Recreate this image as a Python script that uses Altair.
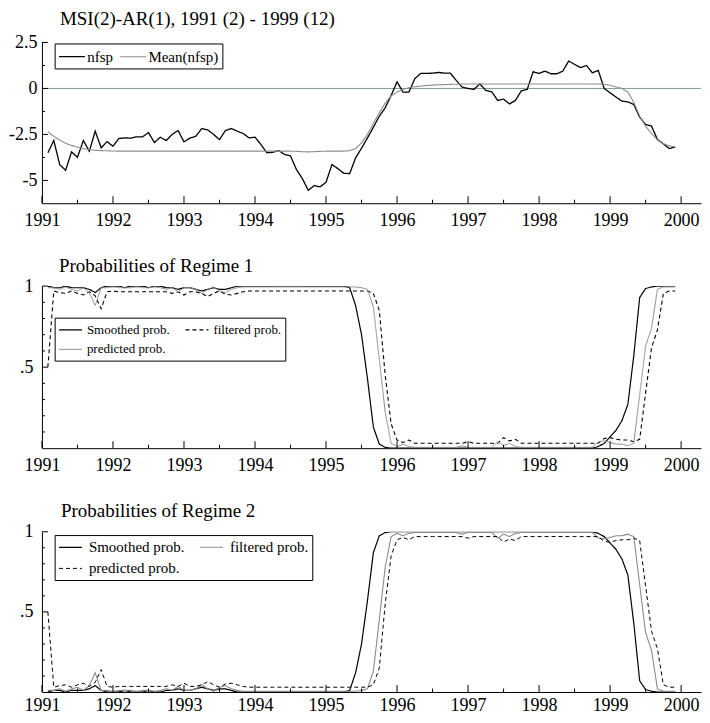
import altair as alt
import pandas as pd

FONT = "Liberation Serif"
GRAY = "#8c8c8c"
ZERO_COLOR = "#7f9c9c"

# monthly observations 1991 (2) ... 1999 (12)
N = 107
t = [1991 + (i + 1) / 12 for i in range(N)]

nfsp = [-3.50, -2.83, -4.14, -4.45, -3.45, -3.74, -2.83, -3.41, -2.32, -3.23,
        -2.89, -3.14, -2.72, -2.69, -2.70, -2.63, -2.63, -2.40, -2.94, -2.65,
        -2.83, -2.50, -2.29, -2.90, -2.70, -2.60, -2.18, -2.25, -2.50, -2.78,
        -2.29, -2.18, -2.32, -2.45, -2.69, -2.65, -3.05, -3.50, -3.47, -3.38,
        -3.59, -3.67, -4.41, -4.90, -5.54, -5.28, -5.35, -5.10, -4.14, -4.36,
        -4.61, -4.63, -3.77, -3.25, -2.69, -2.11, -1.51, -1.05, -0.38, 0.36,
        -0.20, -0.20, 0.53, 0.82, 0.82, 0.83, 0.87, 0.83, 0.83, 0.44,
        0.07, 0.00, -0.05, 0.25, -0.11, -0.18, -0.65, -0.58, -0.84, -0.65,
        -0.13, -0.05, 0.91, 0.82, 0.94, 0.80, 0.80, 0.94, 1.49, 1.31,
        1.13, 1.25, 0.85, 0.98, 0.00, -0.24, -0.47, -0.69, -0.73, -0.87,
        -1.56, -1.96, -2.05, -2.78, -3.01, -3.27, -3.19]

mean_nfsp = [-2.36, -2.60, -2.81, -2.98, -3.10, -3.19, -3.27, -3.32, -3.36, -3.38,
             -3.39, -3.40, -3.41, -3.41, -3.41, -3.41, -3.41, -3.41, -3.41, -3.41,
             -3.41, -3.41, -3.41, -3.41, -3.41, -3.41, -3.41, -3.41, -3.41, -3.41,
             -3.41, -3.41, -3.41, -3.41, -3.41, -3.41, -3.41, -3.41, -3.41, -3.41,
             -3.41, -3.41, -3.42, -3.44, -3.45, -3.44, -3.42, -3.41, -3.41, -3.41,
             -3.41, -3.38, -3.27, -2.96, -2.50, -1.90, -1.32, -0.80, -0.40, -0.20,
             -0.05, 0.04, 0.09, 0.13, 0.16, 0.18, 0.20, 0.21, 0.22, 0.23,
             0.24, 0.24, 0.24, 0.24, 0.24, 0.24, 0.24, 0.24, 0.24, 0.24,
             0.24, 0.24, 0.24, 0.24, 0.24, 0.24, 0.24, 0.24, 0.24, 0.24,
             0.24, 0.24, 0.24, 0.24, 0.23, 0.17, 0.08, 0.00, -0.20, -0.75,
             -1.50, -2.05, -2.45, -2.80, -3.00, -3.12, -3.18]

# ---- Regime 1 (labels as in the panel's legend) ----
r1_smoothed = [1.00, 0.99, 0.99, 1.00, 0.99, 0.99, 0.99, 0.98, 0.96, 0.99,
               1.00, 1.00, 1.00, 0.99, 1.00, 1.00, 1.00, 0.99, 1.00, 1.00,
               0.99, 0.99, 0.98, 0.99, 0.99, 0.98, 0.97, 0.98, 0.99, 0.98,
               0.98, 0.99, 1.00, 1.00, 1.00, 1.00, 1.00, 1.00, 1.00, 1.00,
               1.00, 1.00, 1.00, 1.00, 1.00, 1.00, 1.00, 1.00, 1.00, 1.00,
               1.00, 0.99, 0.88, 0.70, 0.43, 0.13, 0.025, 0.005, 0.00, 0.00,
               0.00, 0.00, 0.00, 0.00, 0.00, 0.00, 0.00, 0.00, 0.00, 0.00,
               0.00, 0.00, 0.00, 0.00, 0.00, 0.00, 0.00, 0.00, 0.00, 0.00,
               0.00, 0.00, 0.00, 0.00, 0.00, 0.00, 0.00, 0.00, 0.00, 0.00,
               0.00, 0.00, 0.00, 0.01, 0.03, 0.07, 0.11, 0.17, 0.27, 0.57,
               0.93, 0.985, 0.995, 1.00, 1.00, 1.00, 1.00]

r1_filtered = [0.50, 0.97, 0.96, 0.955, 0.97, 0.955, 0.945, 0.965, 0.94, 0.86,
               0.965, 0.97, 0.965, 0.965, 0.965, 0.965, 0.965, 0.965, 0.965, 0.965,
               0.965, 0.955, 0.965, 0.945, 0.965, 0.965, 0.955, 0.935, 0.955, 0.97,
               0.95, 0.945, 0.955, 0.965, 0.97, 0.97, 0.97, 0.97, 0.97, 0.97,
               0.97, 0.97, 0.97, 0.97, 0.97, 0.97, 0.97, 0.97, 0.97, 0.97,
               0.97, 0.97, 0.97, 0.97, 0.97, 0.955, 0.85, 0.45, 0.15, 0.05,
               0.035, 0.05, 0.03, 0.03, 0.03, 0.03, 0.03, 0.03, 0.03, 0.03,
               0.03, 0.04, 0.03, 0.03, 0.03, 0.03, 0.03, 0.065, 0.045, 0.055,
               0.03, 0.03, 0.03, 0.03, 0.03, 0.03, 0.03, 0.03, 0.03, 0.03,
               0.03, 0.03, 0.03, 0.03, 0.06, 0.065, 0.055, 0.05, 0.05, 0.04,
               0.055, 0.34, 0.62, 0.73, 0.955, 0.97, 0.97]

r1_predicted = [0.99, 0.99, 0.98, 0.995, 0.98, 0.97, 0.99, 0.96, 0.88, 0.99,
                0.99, 0.995, 0.99, 0.99, 0.99, 0.995, 0.99, 0.99, 0.995, 0.99,
                0.98, 0.99, 0.965, 0.99, 0.99, 0.98, 0.955, 0.98, 0.995, 0.97,
                0.96, 0.98, 0.99, 0.995, 0.995, 0.995, 0.995, 0.995, 0.995, 0.995,
                0.995, 0.995, 0.995, 0.995, 0.995, 0.995, 0.995, 0.995, 0.995, 0.995,
                0.995, 0.995, 0.995, 0.99, 0.98, 0.87, 0.55, 0.22, 0.03, 0.01,
                0.025, 0.01, 0.005, 0.005, 0.005, 0.005, 0.005, 0.005, 0.005, 0.005,
                0.015, 0.005, 0.005, 0.005, 0.005, 0.005, 0.04, 0.015, 0.03, 0.01,
                0.005, 0.005, 0.005, 0.005, 0.005, 0.005, 0.005, 0.005, 0.005, 0.005,
                0.005, 0.005, 0.005, 0.04, 0.045, 0.035, 0.025, 0.025, 0.015, 0.03,
                0.33, 0.63, 0.74, 0.98, 0.995, 0.995, 0.995]

# ---- Regime 2 ----
r2_smoothed = [0.00, 0.01, 0.01, 0.00, 0.01, 0.01, 0.01, 0.02, 0.04, 0.01,
               0.00, 0.00, 0.00, 0.01, 0.00, 0.00, 0.00, 0.01, 0.00, 0.00,
               0.01, 0.01, 0.02, 0.01, 0.01, 0.02, 0.03, 0.02, 0.01, 0.02,
               0.02, 0.01, 0.00, 0.00, 0.00, 0.00, 0.00, 0.00, 0.00, 0.00,
               0.00, 0.00, 0.00, 0.00, 0.00, 0.00, 0.00, 0.00, 0.00, 0.00,
               0.00, 0.01, 0.12, 0.30, 0.57, 0.87, 0.975, 0.995, 1.00, 1.00,
               1.00, 1.00, 1.00, 1.00, 1.00, 1.00, 1.00, 1.00, 1.00, 1.00,
               1.00, 1.00, 1.00, 1.00, 1.00, 1.00, 1.00, 1.00, 1.00, 1.00,
               1.00, 1.00, 1.00, 1.00, 1.00, 1.00, 1.00, 1.00, 1.00, 1.00,
               1.00, 1.00, 1.00, 0.99, 0.97, 0.93, 0.89, 0.83, 0.73, 0.43,
               0.07, 0.015, 0.005, 0.00, 0.00, 0.00, 0.00]

r2_filtered = [0.01, 0.01, 0.02, 0.005, 0.02, 0.03, 0.01, 0.04, 0.12, 0.01,
               0.01, 0.005, 0.01, 0.01, 0.01, 0.005, 0.01, 0.01, 0.005, 0.01,
               0.02, 0.01, 0.035, 0.01, 0.01, 0.02, 0.045, 0.02, 0.005, 0.03,
               0.04, 0.02, 0.01, 0.005, 0.005, 0.005, 0.005, 0.005, 0.005, 0.005,
               0.005, 0.005, 0.005, 0.005, 0.005, 0.005, 0.005, 0.005, 0.005, 0.005,
               0.005, 0.005, 0.005, 0.01, 0.02, 0.13, 0.45, 0.78, 0.97, 0.99,
               0.975, 0.99, 0.995, 0.995, 0.995, 0.995, 0.995, 0.995, 0.995, 0.995,
               0.985, 0.995, 0.995, 0.995, 0.995, 0.995, 0.96, 0.985, 0.97, 0.99,
               0.995, 0.995, 0.995, 0.995, 0.995, 0.995, 0.995, 0.995, 0.995, 0.995,
               0.995, 0.995, 0.995, 0.96, 0.955, 0.965, 0.975, 0.975, 0.985, 0.97,
               0.67, 0.37, 0.26, 0.02, 0.005, 0.005, 0.005]

r2_predicted = [0.50, 0.03, 0.04, 0.045, 0.03, 0.045, 0.055, 0.035, 0.06, 0.14,
                0.035, 0.03, 0.035, 0.035, 0.035, 0.035, 0.035, 0.035, 0.035, 0.035,
                0.035, 0.045, 0.035, 0.055, 0.035, 0.035, 0.045, 0.065, 0.045, 0.03,
                0.05, 0.055, 0.045, 0.035, 0.03, 0.03, 0.03, 0.03, 0.03, 0.03,
                0.03, 0.03, 0.03, 0.03, 0.03, 0.03, 0.03, 0.03, 0.03, 0.03,
                0.03, 0.03, 0.03, 0.03, 0.03, 0.045, 0.15, 0.55, 0.85, 0.95,
                0.965, 0.95, 0.97, 0.97, 0.97, 0.97, 0.97, 0.97, 0.97, 0.97,
                0.97, 0.96, 0.97, 0.97, 0.97, 0.97, 0.97, 0.935, 0.955, 0.945,
                0.97, 0.97, 0.97, 0.97, 0.97, 0.97, 0.97, 0.97, 0.97, 0.97,
                0.97, 0.97, 0.97, 0.97, 0.94, 0.935, 0.945, 0.95, 0.95, 0.96,
                0.945, 0.66, 0.38, 0.27, 0.045, 0.03, 0.03]

years = list(range(1991, 2001))
half_years = [y + 0.5 for y in range(1991, 2000)]
p1_major = [-5, -2.5, 0, 2.5]
p1_minor = [-3.75, -1.25, 1.25]
pr_major = [0.5, 1]
pr_minor = [0.1, 0.2, 0.3, 0.4, 0.6, 0.7, 0.8, 0.9]

X_DOMAIN = [1991, 2000.28]
W = 660
DASH = [4, 3]
SOLID = [1, 0]
LABEL_SIZE = 18
LEG_SYMBOL = "M-1,0H2"   # a line that starts at the symbol column's left edge


def long_df(series):
    rows = []
    for name, vals in series:
        for ti, v in zip(t, vals):
            rows.append({"t": ti, "v": v, "series": name})
    return pd.DataFrame(rows)


def panel(series, colors, dashes, widths, ydom, ymaj, ymin, label_expr, h,
          title, tdx, toff, legend, zero=False, ylab_pad=5, xlab_pad=8.6):
    xs = alt.Scale(domain=X_DOMAIN, nice=False, zero=False)
    ys = alt.Scale(domain=ydom, nice=False, zero=False)
    xaxis = alt.Axis(values=years, format="d", ticks=False, grid=False,
                     title=None, labelPadding=xlab_pad, labelFlush=False,
                     labelFont=FONT, labelFontSize=LABEL_SIZE,
                     labelColor="black", domainColor="black", domainWidth=1)
    yaxis = alt.Axis(values=ymaj, labelExpr=label_expr, ticks=False,
                     grid=False, title=None, labelPadding=ylab_pad,
                     labelFlush=False, minExtent=34, maxExtent=34,
                     labelFont=FONT, labelFontSize=LABEL_SIZE,
                     labelColor="black", domainColor="black", domainWidth=1)
    X = alt.X("t:Q", scale=xs, axis=xaxis)
    Y = alt.Y("v:Q", scale=ys, axis=yaxis)
    order = [s[0] for s in series]
    df = long_df(series)
    lines = alt.Chart(df).mark_line(clip=True).encode(
        x=X, y=Y,
        color=alt.Color("series:N", scale=alt.Scale(domain=order, range=colors),
                        legend=legend),
        strokeDash=alt.StrokeDash("series:N",
                                  scale=alt.Scale(domain=order, range=dashes),
                                  legend=legend),
        strokeWidth=alt.StrokeWidth("series:N",
                                    scale=alt.Scale(domain=order, range=widths),
                                    legend=legend),
    )
    layers = []
    if zero:
        layers.append(alt.Chart(pd.DataFrame({"v": [0]})).mark_rule(
            color=ZERO_COLOR, strokeWidth=1).encode(y=Y))
    xt_major = alt.Chart(pd.DataFrame({"t": years})).mark_rule(
        color="black", strokeWidth=1).encode(
        x=X, y=alt.value(h), y2=alt.value(h - 7))
    xt_minor = alt.Chart(pd.DataFrame({"t": half_years})).mark_rule(
        color="black", strokeWidth=1).encode(
        x=X, y=alt.value(h), y2=alt.value(h - 3.5))
    yt_major = alt.Chart(pd.DataFrame({"v": ymaj})).mark_rule(
        color="black", strokeWidth=1).encode(
        y=Y, x=alt.value(0), x2=alt.value(6))
    yt_minor = alt.Chart(pd.DataFrame({"v": ymin})).mark_rule(
        color="black", strokeWidth=1).encode(
        y=Y, x=alt.value(0), x2=alt.value(3))
    layers += [lines, xt_major, xt_minor, yt_major, yt_minor]
    return alt.layer(*layers).properties(
        width=W, height=h,
        title=alt.TitleParams(title, anchor="start", frame="group", dx=tdx,
                              offset=toff, fontSize=19, font=FONT,
                              fontWeight="normal", color="black"))


def make_legend(x, y, size, font_size, col_pad, label_off, row_pad=4.4,
                pad=3.5):
    return alt.Legend(title=None, orient="none", legendX=x, legendY=y,
                      columns=2, direction="horizontal", symbolType=LEG_SYMBOL,
                      symbolSize=size, symbolStrokeWidth=1.2,
                      labelFont=FONT, labelFontSize=font_size,
                      labelColor="black", strokeColor="black", fillColor="white",
                      padding=pad, columnPadding=col_pad, rowPadding=row_pad,
                      labelOffset=label_off)


p1 = panel([("nfsp", nfsp), ("Mean(nfsp)", mean_nfsp)],
           ["black", GRAY], [SOLID, SOLID], [1.3, 1.1],
           [-6.24, 2.5], p1_major, p1_minor, "'' + datum.value", 161,
           "MSI(2)-AR(1), 1991 (2) - 1999 (12)", 18, 4,
           make_legend(12.7, 1, 300, 15, 4.3, 10.1), zero=True, ylab_pad=5)

p2 = panel([("Smoothed prob.", r1_smoothed), ("filtered prob.", r1_filtered),
            ("predicted prob.", r1_predicted)],
           ["black", "black", GRAY], [SOLID, DASH, SOLID], [1.2, 1.0, 1.0],
           [0, 1], pr_major, pr_minor,
           "datum.value == 1 ? '1' : '.5'", 162.3,
           "Probabilities of Regime 1", 17, 1,
           make_legend(12.7, 31.6, 235, 13, 12.7, 11.8, row_pad=3.7),
           ylab_pad=9)

p3 = panel([("Smoothed prob.", r2_smoothed), ("filtered prob.", r2_filtered),
            ("predicted prob.", r2_predicted)],
           ["black", GRAY, "black"], [SOLID, SOLID, DASH], [1.2, 1.0, 1.0],
           [0, 1], pr_major, pr_minor,
           "datum.value == 1 ? '1' : '.5'", 160.5,
           "Probabilities of Regime 2", 19, 1.5,
           make_legend(12.7, 3.3, 235, 15, 12.3, 13.8),
           ylab_pad=9, xlab_pad=4.5)

chart = alt.vconcat(p1, p2, p3, spacing=27).resolve_scale(
    color="independent", strokeDash="independent", strokeWidth="independent"
).properties(
    padding={"left": 0, "top": 2, "right": 0, "bottom": 1},
    background="white",
).configure_view(stroke=None)

chart.save("out.html", embed_options={"renderer": "svg", "actions": False})
